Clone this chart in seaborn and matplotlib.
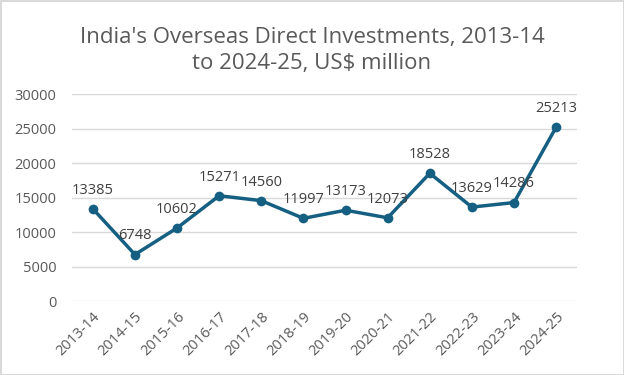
import pandas as pd
import matplotlib.pyplot as plt
import seaborn as sns

anios = ['2013-14', '2014-15', '2015-16', '2016-17', '2017-18', '2018-19',
         '2019-20', '2020-21', '2021-22', '2022-23', '2023-24', '2024-25']
inversion = [13385, 6748, 10602, 15271, 14560, 11997,
             13173, 12073, 18528, 13629, 14286, 25213]
ticks_y = [0, 5000, 10000, 15000, 20000, 25000, 30000]

df = pd.DataFrame({'anio': anios, 'odi': inversion})
df['pos'] = range(len(df))

sns.set_style('white')
plt.rcParams['font.family'] = ['Open Sans', 'DejaVu Sans']

fig = plt.figure(figsize=(6.24, 3.75), dpi=100)
fig.patch.set_edgecolor('#d9d9d9')
fig.patch.set_linewidth(2)
ax = fig.add_axes([0.115, 0.197, 0.81, 0.552])

for y in ticks_y:
    ax.axhline(y, color='#d9d9d9', lw=1, zorder=0)

sns.lineplot(data=df, x='pos', y='odi', ax=ax, color='#156082',
             linewidth=2.5, marker='o', markersize=7, markeredgewidth=0)

for p, v in zip(df['pos'], df['odi']):
    ax.annotate(str(v), (p, v), xytext=(0, 8), textcoords='offset points',
                ha='center', va='bottom', fontsize=10.5, color='#404040')

ax.set_xlim(-0.5, len(anios) - 0.5)
ax.set_ylim(0, 30000)
ax.set_yticks(ticks_y)
ax.set_yticklabels([str(t) for t in ticks_y])
ax.set_xticks(df['pos'])
ax.set_xticklabels(anios, rotation=45, ha='right', rotation_mode='anchor')
ax.tick_params(axis='both', labelsize=10.5, colors='#595959', length=0)
ax.tick_params(axis='y', pad=11)
ax.tick_params(axis='x', pad=6)
ax.set_xlabel('')
ax.set_ylabel('')
sns.despine(ax=ax, left=True, bottom=True)

fig.text(0.5, 0.865, "India's Overseas Direct Investments, 2013-14\nto 2024-25, US$ million",
         ha='center', va='center', fontsize=16, color='#595959', linespacing=1.35)

fig.savefig('out.png', dpi=100)
